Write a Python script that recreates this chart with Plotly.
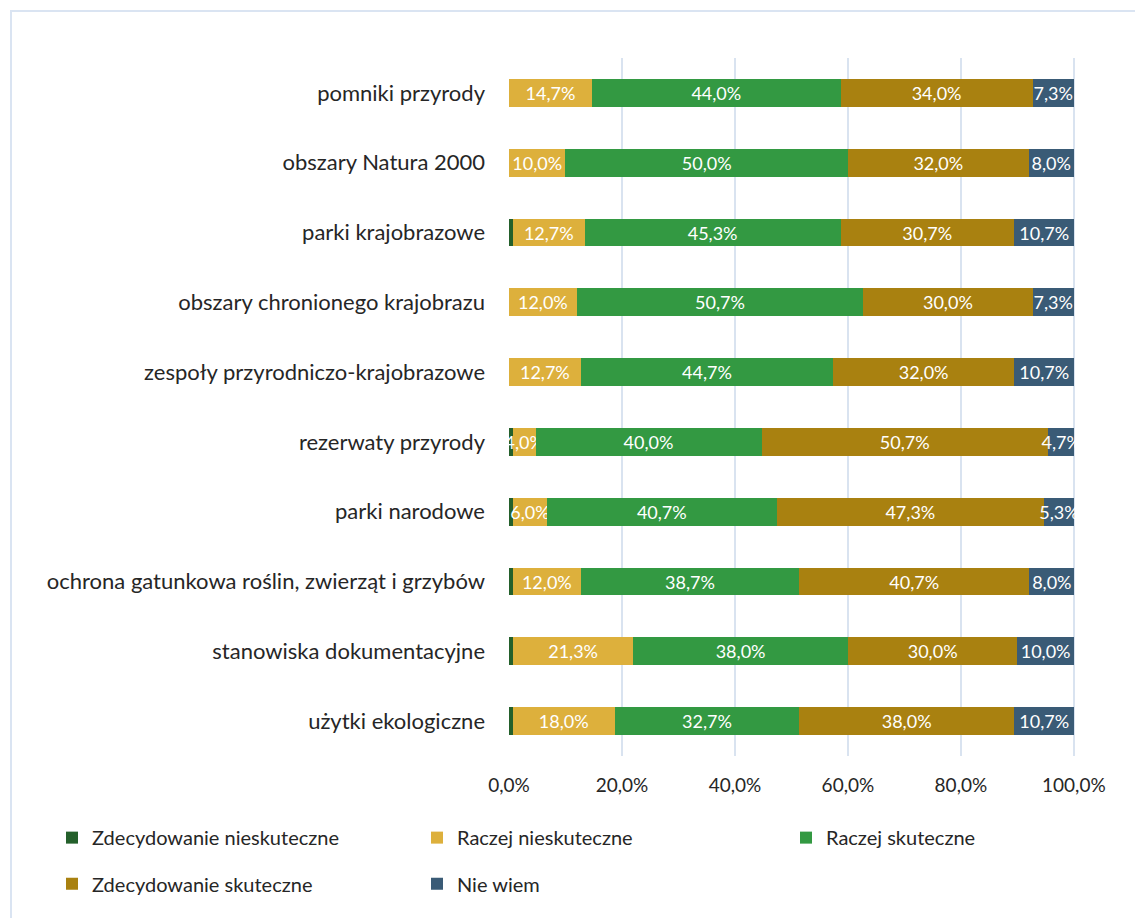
import plotly.graph_objects as go

categories = [
    "pomniki przyrody",
    "obszary Natura 2000",
    "parki krajobrazowe",
    "obszary chronionego krajobrazu",
    "zespoły przyrodniczo-krajobrazowe",
    "rezerwaty przyrody",
    "parki narodowe",
    "ochrona gatunkowa roślin, zwierząt i grzybów",
    "stanowiska dokumentacyjne",
    "użytki ekologiczne",
]

zdec_nieskuteczne = [0.0, 0.0, 0.7, 0.0, 0.0, 0.7, 0.7, 0.7, 0.7, 0.7]
raczej_nieskuteczne = [14.7, 10.0, 12.7, 12.0, 12.7, 4.0, 6.0, 12.0, 21.3, 18.0]
raczej_skuteczne = [44.0, 50.0, 45.3, 50.7, 44.7, 40.0, 40.7, 38.7, 38.0, 32.7]
zdec_skuteczne = [34.0, 32.0, 30.7, 30.0, 32.0, 50.7, 47.3, 40.7, 30.0, 38.0]
nie_wiem = [7.3, 8.0, 10.7, 7.3, 10.7, 4.7, 5.3, 8.0, 10.0, 10.7]

x_ticks = [0, 20, 40, 60, 80, 100]
x_tick_labels = ["0,0%", "20,0%", "40,0%", "60,0%", "80,0%", "100,0%"]

FONT = "Lato"
TXT = "#262626"
series = [
    ("Zdecydowanie nieskuteczne", zdec_nieskuteczne, "#24602B", False, "legend"),
    ("Raczej nieskuteczne", raczej_nieskuteczne, "#DDB03C", True, "legend"),
    ("Raczej skuteczne", raczej_skuteczne, "#339942", True, "legend3"),
    ("Zdecydowanie skuteczne", zdec_skuteczne, "#A98110", True, "legend2"),
    ("Nie wiem", nie_wiem, "#3A5B76", True, "legend2"),
]

fig = go.Figure()
for name, vals, color, show_text, leg in series:
    fig.add_trace(go.Bar(
        y=categories, x=vals, name=name, orientation="h",
        marker=dict(color=color, line=dict(width=0)),
        texttemplate="%{x:.1f}%" if show_text else "",
        textposition="inside", insidetextanchor="middle",
        textangle=0, constraintext="none",
        textfont=dict(color="white", size=18, family=FONT),
        cliponaxis=False,
        legend=leg,
    ))

L, R, T, B = 509, 60, 58, 162
PW = 1135 - L - R
PH = 918 - T - B


def leg_cfg(px_x, y, ew=320):
    return dict(
        orientation="h", traceorder="normal",
        x=(px_x - L) / PW, xanchor="left", y=y, yanchor="top",
        entrywidth=ew, entrywidthmode="pixels",
        font=dict(size=20, color=TXT, family=FONT),
        bgcolor="rgba(0,0,0,0)",
    )


fig.update_layout(
    width=1135, height=918,
    barmode="stack", bargap=0.6,
    separators=", ",
    paper_bgcolor="white", plot_bgcolor="white",
    margin=dict(l=L, r=R, t=T, b=B, autoexpand=False),
    font=dict(family=FONT, size=19, color=TXT),
    uniformtext=dict(minsize=18, mode="show"),
    xaxis=dict(
        range=[0, 100.2], tickvals=x_ticks, ticktext=x_tick_labels,
        showgrid=True, gridcolor="#D9E3F0", gridwidth=1.5,
        zeroline=False, showline=False, ticks="",
        ticklabelstandoff=16,
        tickfont=dict(size=19, color=TXT, family=FONT),
    ),
    yaxis=dict(
        autorange="reversed", showgrid=False, zeroline=False, showline=False,
        ticks="", ticklabelstandoff=23,
        tickfont=dict(size=22, color=TXT, family=FONT),
    ),
    legend=leg_cfg(52, -0.089),
    legend3=leg_cfg(786, -0.089, 180),
    legend2=leg_cfg(52, -0.155),
    shapes=[dict(
        type="rect", xref="paper", yref="paper",
        x0=(11 - L) / PW, x1=(1140 - L) / PW,
        y0=(918 - B - 925) / PH, y1=(918 - B - 11) / PH,
        line=dict(color="#DAE4F2", width=2), fillcolor="rgba(0,0,0,0)",
        layer="below",
    )],
)

fig.write_html("out.html", config={"displayModeBar": False},
               post_script="document.body.style.margin='0';")
